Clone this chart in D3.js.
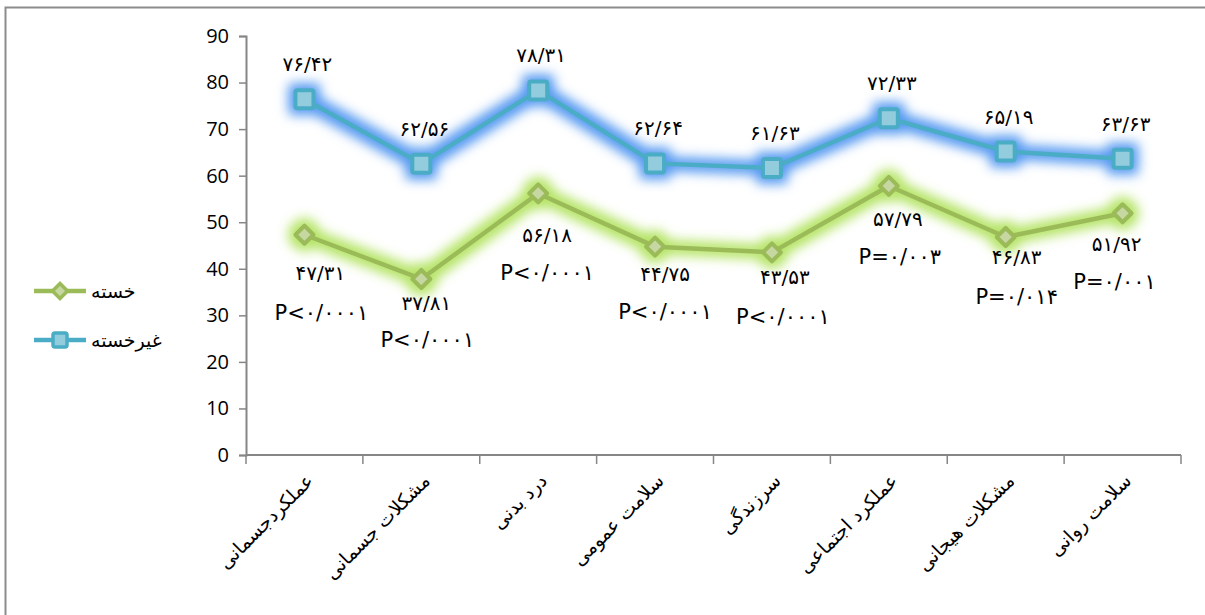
<!DOCTYPE html>
<html>
<head>
<meta charset="utf-8">
<script src="https://cdn.jsdelivr.net/npm/d3@7"></script>
<style>
	body { margin: 0; background: #fff; }
	svg { display: block; }
</style>
</head>
<body>
<div id="chart"></div>
<script>
// categories on the x axis
const categories = ['عملکردجسمانی', 'مشکلات جسمانی', 'درد بدنی', 'سلامت عمومی', 'سرزندگی', 'عملکرد اجتماعی', 'مشکلات هیجانی', 'سلامت روانی'];

// series values
const tiredValues = [47.31, 37.81, 56.18, 44.75, 43.53, 57.79, 46.83, 51.92];
const notTiredValues = [76.42, 62.56, 78.31, 62.64, 61.63, 72.33, 65.19, 63.63];

// p-values printed under the green labels
const pValues = ['P<۰/۰۰۰۱', 'P<۰/۰۰۰۱', 'P<۰/۰۰۰۱', 'P<۰/۰۰۰۱', 'P<۰/۰۰۰۱', 'P=۰/۰۰۳', 'P=۰/۰۱۴', 'P=۰/۰۰۱'];

const yTicks = [0, 10, 20, 30, 40, 50, 60, 70, 80, 90];

const seriesNames = ['خسته', 'غیرخسته'];

// hand placed label nudges (px) copied from the original layout
const tiredLabelShift = [[16, 38], [5, 24], [9, 42], [10, 27], [13, 25], [9, 33], [11, 20], [-6, 31]];
const pLabelShift = [[17, 78], [6, 61], [9, 80], [10, 65], [11, 65], [11, 71], [11, 60], [-8, 69]];

// persian digits
const fa = v => v.toFixed(2).replace('.', '/').replace(/\d/g, d => '۰۱۲۳۴۵۶۷۸۹'[d]);

const W = 1205, H = 615;
const svg = d3.select('#chart').append('svg')
	.attr('width', W)
	.attr('height', H);

const defs = svg.append('defs');
function glow(id, color, op) {
	const f = defs.append('filter').attr('id', id)
		.attr('x', '-20%').attr('y', '-60%').attr('width', '140%').attr('height', '220%');
	f.append('feMorphology').attr('in', 'SourceAlpha').attr('operator', 'dilate').attr('radius', 5).attr('result', 'd');
	f.append('feGaussianBlur').attr('in', 'd').attr('stdDeviation', 6).attr('result', 'b');
	f.append('feFlood').attr('flood-color', color).attr('flood-opacity', op);
	f.append('feComposite').attr('in2', 'b').attr('operator', 'in').attr('result', 'g');
	const m = f.append('feMerge');
	m.append('feMergeNode').attr('in', 'g');
	m.append('feMergeNode').attr('in', 'SourceGraphic');
}
glow('glowBlue', '#4b93f0', 0.95);
glow('glowGreen', '#b0e25c', 0.95);

// outer frame (top + left only)
svg.append('path')
	.attr('d', 'M5.5,615 L5.5,7.5 L1205,7.5')
	.attr('fill', 'none')
	.attr('stroke', '#8c8c8c')
	.attr('stroke-width', 2);

const x = d3.scaleBand()
	.domain(categories)
	.range([246, 1181]);

const y = d3.scaleLinear()
	.domain([0, 90])
	.range([455, 36]);

const fontNum = '"Open Sans", "DejaVu Sans", sans-serif';
const fontFa = '"DejaVu Sans", sans-serif';

// y axis
const yAxis = svg.append('g')
	.attr('transform', 'translate(246,0)')
	.call(d3.axisLeft(y).tickValues(yTicks).tickSize(7).tickPadding(10));
yAxis.select('.domain').attr('stroke', '#868686').attr('stroke-width', 2);
yAxis.selectAll('.tick line').attr('stroke', '#868686').attr('stroke-width', 1.5);
yAxis.selectAll('.tick text')
	.attr('font-family', fontNum)
	.attr('font-size', 20)
	.attr('fill', '#000');

// x axis with ticks at band edges
const xg = svg.append('g').attr('transform', 'translate(0,455)');
xg.append('line')
	.attr('x1', 246).attr('x2', 1181)
	.attr('stroke', '#868686').attr('stroke-width', 2);
xg.selectAll('.xt')
	.data(categories.concat(['_end']))
	.enter().append('line')
	.attr('class', 'xt')
	.attr('x1', (d, i) => x.range()[0] + i * x.bandwidth())
	.attr('x2', (d, i) => x.range()[0] + i * x.bandwidth())
	.attr('y1', 0).attr('y2', 9)
	.attr('stroke', '#868686').attr('stroke-width', 1.5);
xg.selectAll('.xl')
	.data(categories)
	.enter().append('text')
	.attr('class', 'xl')
	.attr('transform', d => `translate(${x(d) + x.bandwidth() / 2 + 10},${27}) rotate(-45)`)
	.attr('text-anchor', 'end')
	.attr('font-family', fontFa)
	.attr('font-size', 19)
	.attr('fill', '#000')
	.text(d => d);

const cx = d => x(d) + x.bandwidth() / 2;

const line = d3.line()
	.x(d => cx(d.c))
	.y(d => y(d.v));

const tired = categories.map((c, i) => ({ c, v: tiredValues[i] }));
const notTired = categories.map((c, i) => ({ c, v: notTiredValues[i] }));

const diamond = s => `M0,${-s}L${s},0L0,${s}L${-s},0Z`;

// blue series
const gb = svg.append('g').attr('filter', 'url(#glowBlue)');
gb.append('path')
	.datum(notTired)
	.attr('d', line)
	.attr('fill', 'none')
	.attr('stroke', '#4bacc6')
	.attr('stroke-width', 4.5)
	.attr('stroke-linejoin', 'round');
gb.selectAll('rect')
	.data(notTired)
	.enter().append('rect')
	.attr('x', d => cx(d.c) - 9)
	.attr('y', d => y(d.v) - 9)
	.attr('width', 18).attr('height', 18)
	.attr('rx', 2)
	.attr('fill', '#93cddd')
	.attr('stroke', '#4bacc6')
	.attr('stroke-width', 4);

// green series
const gg = svg.append('g').attr('filter', 'url(#glowGreen)');
gg.append('path')
	.datum(tired)
	.attr('d', line)
	.attr('fill', 'none')
	.attr('stroke', '#9bbb59')
	.attr('stroke-width', 4.5)
	.attr('stroke-linejoin', 'round');
gg.selectAll('path.mk')
	.data(tired)
	.enter().append('path')
	.attr('class', 'mk')
	.attr('transform', d => `translate(${cx(d.c)},${y(d.v)})`)
	.attr('d', diamond(9))
	.attr('fill', '#c6d7a2')
	.attr('stroke', '#9bbb59')
	.attr('stroke-width', 4)
	.attr('stroke-linejoin', 'round');

// value labels
const labelStyle = sel => sel
	.attr('font-family', fontFa)
	.attr('font-size', 20)
	.attr('fill', '#000')
	.attr('text-anchor', 'middle')
	.attr('dominant-baseline', 'central')
	.attr('direction', 'ltr');

svg.selectAll('.lb')
	.data(notTired)
	.enter().append('text')
	.attr('class', 'lb')
	.attr('x', d => cx(d.c) + 3)
	.attr('y', d => y(d.v) - 35)
	.text(d => fa(d.v))
	.call(labelStyle);

svg.selectAll('.lg')
	.data(tired)
	.enter().append('text')
	.attr('class', 'lg')
	.attr('x', (d, i) => cx(d.c) + tiredLabelShift[i][0])
	.attr('y', (d, i) => y(d.v) + tiredLabelShift[i][1])
	.text(d => fa(d.v))
	.call(labelStyle);

svg.selectAll('.lp')
	.data(tired)
	.enter().append('text')
	.attr('class', 'lp')
	.attr('x', (d, i) => cx(d.c) + pLabelShift[i][0])
	.attr('y', (d, i) => y(d.v) + pLabelShift[i][1])
	.text((d, i) => pValues[i])
	.call(labelStyle)
	.attr('font-size', 21);

// legend
const legend = svg.append('g');
const legendRows = [
	{ name: seriesNames[0], color: '#9bbb59', fill: '#c6d7a2', shape: 'diamond', y: 291 },
	{ name: seriesNames[1], color: '#4bacc6', fill: '#93cddd', shape: 'square', y: 340 }
];
legendRows.forEach(r => {
	legend.append('line')
		.attr('x1', 34).attr('x2', 86)
		.attr('y1', r.y).attr('y2', r.y)
		.attr('stroke', r.color).attr('stroke-width', 4.5);
	if (r.shape === 'diamond') {
		legend.append('path')
			.attr('transform', `translate(60,${r.y})`)
			.attr('d', diamond(7.5))
			.attr('fill', r.fill)
			.attr('stroke', r.color)
			.attr('stroke-width', 3.5);
	} else {
		legend.append('rect')
			.attr('x', 53).attr('y', r.y - 7)
			.attr('width', 14).attr('height', 14)
			.attr('rx', 2)
			.attr('fill', r.fill)
			.attr('stroke', r.color)
			.attr('stroke-width', 3.5);
	}
	legend.append('text')
		.attr('x', 91)
		.attr('y', r.y)
		.attr('dominant-baseline', 'central')
		.attr('font-family', fontFa)
		.attr('font-size', 19)
		.attr('fill', '#000')
		.text(r.name);
});
</script>
</body>
</html>
